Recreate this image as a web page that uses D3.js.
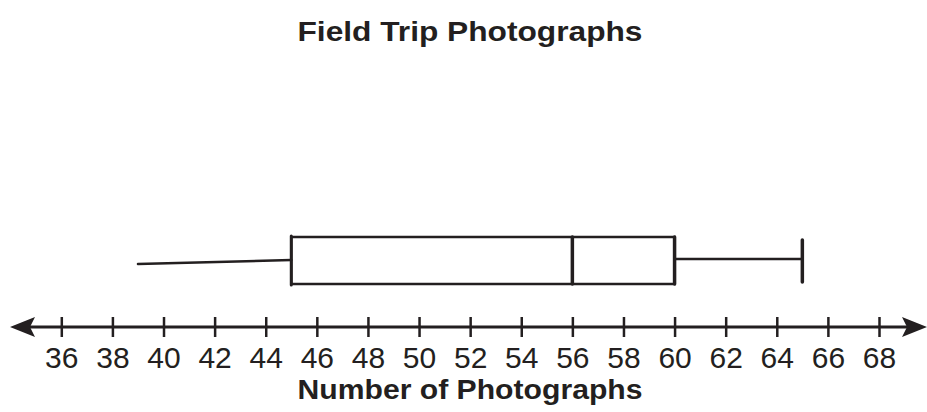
<!DOCTYPE html>
<html>
<head>
<meta charset="utf-8">
<script src="https://cdn.jsdelivr.net/npm/d3@7"></script>
<style>
  html, body { margin: 0; padding: 0; background: #fff; }
  svg { display: block; }
</style>
</head>
<body>
<svg id="chart" width="927" height="412"></svg>
<script>
const title = "Field Trip Photographs";
const axisTitle = "Number of Photographs";
const tickValues = [36, 38, 40, 42, 44, 46, 48, 50, 52, 54, 56, 58, 60, 62, 64, 66, 68];
const boxStats = { min: 39, q1: 45, median: 56, q3: 60, max: 65 };
const ink = "#231f20";

const svg = d3.select("#chart");
const x = d3.scaleLinear().domain([36, 68]).range([61.3, 879]);

const axisY = 327;
// number line
svg.append("line")
  .attr("x1", 18).attr("x2", 918)
  .attr("y1", axisY).attr("y2", axisY)
  .attr("stroke", ink).attr("stroke-width", 3);
// arrowheads
svg.append("path")
  .attr("d", `M10,${axisY} L35,${axisY - 10} L30,${axisY} L35,${axisY + 10} Z`)
  .attr("fill", ink);
svg.append("path")
  .attr("d", `M927,${axisY} L902,${axisY - 10} L907,${axisY} L902,${axisY + 10} Z`)
  .attr("fill", ink);

const axis = d3.axisBottom(x).tickValues(tickValues).tickSize(0).tickPadding(0).tickFormat(d3.format("d"));
const g = svg.append("g").attr("transform", `translate(0,${axisY})`).call(axis);
g.select(".domain").remove();
g.selectAll(".tick line")
  .attr("y1", -10).attr("y2", 10)
  .attr("stroke", ink).attr("stroke-width", 2.5);
g.selectAll(".tick text")
  .attr("y", 41).attr("dy", 0)
  .attr("fill", ink)
  .style("font-family", "Liberation Sans, Arial, sans-serif")
  .style("font-size", "30px");

// box plot
const boxTop = 237, boxBot = 284, midY = 261;
const bp = svg.append("g").attr("stroke", ink).attr("fill", "none").attr("stroke-linecap", "round");
bp.append("line").attr("x1", x(boxStats.min)).attr("x2", x(boxStats.q1))
  .attr("y1", midY + 3).attr("y2", midY - 1).attr("stroke-width", 2.5);
bp.append("line").attr("x1", x(boxStats.q3)).attr("x2", x(boxStats.max))
  .attr("y1", midY - 2).attr("y2", midY - 2).attr("stroke-width", 2.5);
bp.append("rect").attr("x", x(boxStats.q1)).attr("y", boxTop)
  .attr("width", x(boxStats.q3) - x(boxStats.q1)).attr("height", boxBot - boxTop)
  .attr("stroke-width", 2.5);
bp.append("line").attr("x1", x(boxStats.q1)).attr("x2", x(boxStats.q1))
  .attr("y1", boxTop - 1).attr("y2", boxBot + 1).attr("stroke-width", 3);
bp.append("line").attr("x1", x(boxStats.median)).attr("x2", x(boxStats.median))
  .attr("y1", boxTop).attr("y2", boxBot).attr("stroke-width", 3.5);
bp.append("line").attr("x1", x(boxStats.q3)).attr("x2", x(boxStats.q3))
  .attr("y1", boxTop).attr("y2", boxBot).attr("stroke-width", 3.5);
bp.append("line").attr("x1", x(boxStats.max)).attr("x2", x(boxStats.max))
  .attr("y1", 240).attr("y2", 282).attr("stroke-width", 3.5);

// titles
svg.append("text")
  .attr("x", 470).attr("y", 41)
  .attr("text-anchor", "middle")
  .attr("textLength", 345).attr("lengthAdjust", "spacingAndGlyphs")
  .attr("fill", ink)
  .style("font-family", "Liberation Sans, Arial, sans-serif")
  .style("font-weight", "bold").style("font-size", "28px")
  .text(title);
svg.append("text")
  .attr("x", 470).attr("y", 399)
  .attr("text-anchor", "middle")
  .attr("textLength", 345).attr("lengthAdjust", "spacingAndGlyphs")
  .attr("fill", ink)
  .style("font-family", "Liberation Sans, Arial, sans-serif")
  .style("font-weight", "bold").style("font-size", "28px")
  .text(axisTitle);
</script>
</body>
</html>
